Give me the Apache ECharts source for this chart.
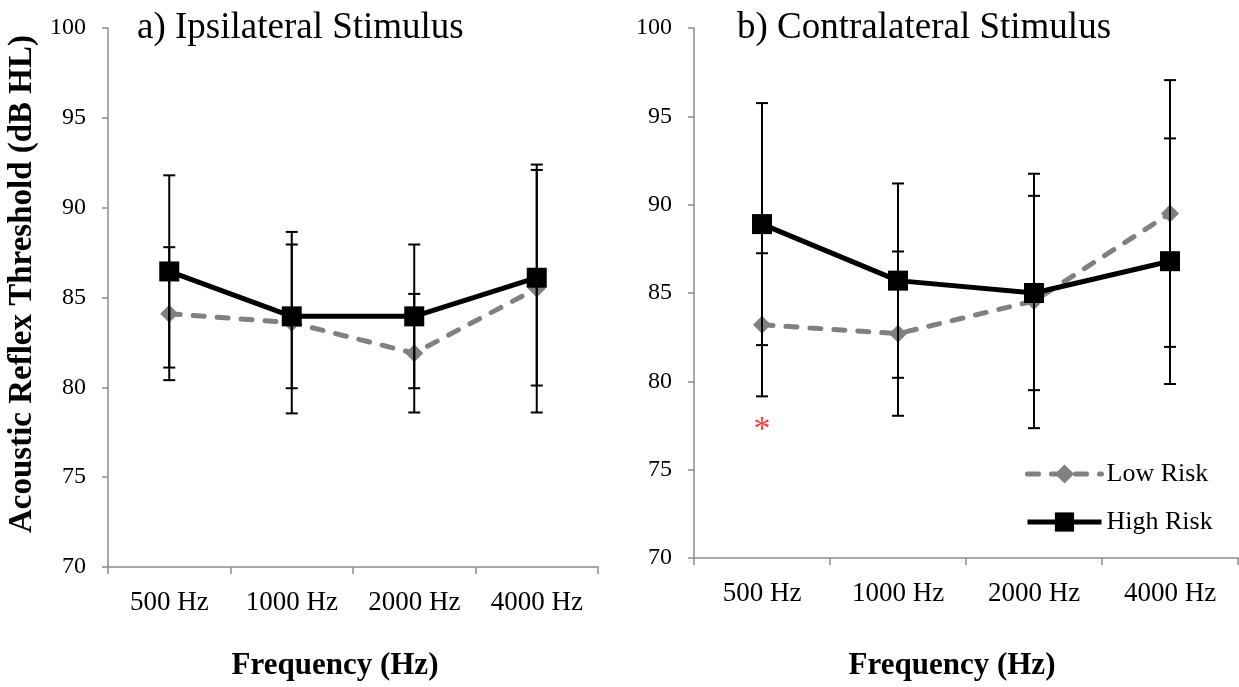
<!DOCTYPE html>
<html><head><meta charset="utf-8">
<script src="https://cdn.jsdelivr.net/npm/echarts@6/dist/echarts.min.js"></script>
<style>html,body{margin:0;padding:0;background:#fff}#c{width:1239px;height:687px}</style>
</head><body><div id="c"></div>
<script>
const categories = ['500 Hz', '1000 Hz', '2000 Hz', '4000 Hz'];
const yMin = 70, yMax = 100, yStep = 5;
const ipsiLowMean = [84.1, 83.6, 81.9, 85.5];
const ipsiLowErr = [3.7, 5.05, 3.3, 6.9];
const ipsiHighMean = [86.45, 83.95, 83.95, 86.1];
const ipsiHighErr = [5.35, 4.0, 4.0, 6.0];
const contraLowMean = [83.2, 82.7, 84.55, 89.5];
const contraLowErr = [4.05, 4.65, 7.2, 7.55];
const contraHighMean = [88.9, 85.7, 85.0, 86.8];
const contraHighErr = [6.85, 5.5, 5.5, 6.95];
const sigMarks = [[0, 77.25]];

const FONT = '"Liberation Serif", "Times New Roman", serif';

function errData(mean, err) {
  return mean.map((m, i) => [i, m - err[i], m + err[i]]);
}
function errRender(params, api) {
  const x = api.value(0), lo = api.value(1), hi = api.value(2);
  const pHi = api.coord([x, hi]);
  const pLo = api.coord([x, lo]);
  const cw = 6;
  const style = { stroke: '#000', lineWidth: 2, fill: null };
  return { type: 'group', children: [
    { type: 'line', shape: { x1: pHi[0], y1: pHi[1], x2: pLo[0], y2: pLo[1] }, style: style },
    { type: 'line', shape: { x1: pHi[0] - cw, y1: pHi[1], x2: pHi[0] + cw, y2: pHi[1] }, style: style },
    { type: 'line', shape: { x1: pLo[0] - cw, y1: pLo[1], x2: pLo[0] + cw, y2: pLo[1] }, style: style }
  ]};
}

const axisLineStyle = { color: '#8c8c8c', width: 1.5 };

function xAxisCfg(idx) {
  return {
    type: 'category', gridIndex: idx, data: categories, boundaryGap: true,
    axisLine: { lineStyle: axisLineStyle },
    axisTick: { show: true, length: 7, lineStyle: axisLineStyle },
    axisLabel: { color: '#000', fontFamily: FONT, fontSize: 27, margin: 22 },
    splitLine: { show: false }
  };
}
function yAxisCfg(idx) {
  return {
    type: 'value', gridIndex: idx, min: yMin, max: yMax, interval: yStep,
    axisLine: { show: true, lineStyle: axisLineStyle },
    axisTick: { show: true, length: 6, lineStyle: axisLineStyle },
    axisLabel: { color: '#000', fontFamily: FONT, fontSize: 24, margin: 22 },
    splitLine: { show: false }
  };
}
function lowSeries(idx, data) {
  return {
    name: 'Low Risk', type: 'line', xAxisIndex: idx, yAxisIndex: idx, data: data,
    symbol: 'diamond', symbolSize: 18,
    itemStyle: { color: '#808080' },
    lineStyle: { color: '#808080', width: 5, type: [11, 13], cap: 'round' },
    z: 3, animation: false
  };
}
function highSeries(idx, data) {
  return {
    name: 'High Risk', type: 'line', xAxisIndex: idx, yAxisIndex: idx, data: data,
    symbol: 'rect', symbolSize: 20,
    itemStyle: { color: '#000' },
    lineStyle: { color: '#000', width: 5 },
    z: 4, animation: false
  };
}
function errSeries(idx, mean, err) {
  return {
    type: 'custom', xAxisIndex: idx, yAxisIndex: idx, renderItem: errRender,
    data: errData(mean, err), encode: { x: 0, y: [1, 2] }, z: 5, silent: true, animation: false
  };
}

const chart = echarts.init(document.getElementById('c'), null, { renderer: 'canvas' });
chart.setOption({
  backgroundColor: '#fff',
  animation: false,
  grid: [
    { left: 108, right: 641, top: 28, bottom: 120 },
    { left: 694, right: 1, top: 28, bottom: 129 }
  ],
  xAxis: [xAxisCfg(0), xAxisCfg(1)],
  yAxis: [yAxisCfg(0), yAxisCfg(1)],
  legend: {
    data: ['Low Risk', 'High Risk'], orient: 'vertical', left: 1020, top: 456,
    itemWidth: 74, itemHeight: 24, itemGap: 22,
    lineStyle: { width: 5 },
    textStyle: { color: '#000', fontFamily: FONT, fontSize: 26 }
  },
  series: [
    lowSeries(0, ipsiLowMean), highSeries(0, ipsiHighMean),
    errSeries(0, ipsiLowMean, ipsiLowErr), errSeries(0, ipsiHighMean, ipsiHighErr),
    lowSeries(1, contraLowMean), highSeries(1, contraHighMean),
    errSeries(1, contraLowMean, contraLowErr), errSeries(1, contraHighMean, contraHighErr),
    {
      type: 'scatter', xAxisIndex: 1, yAxisIndex: 1, data: sigMarks, symbolSize: 0,
      label: { show: true, position: 'inside', formatter: '*', color: '#ff0000', fontFamily: FONT, fontSize: 34 },
      silent: true, animation: false
    }
  ],
  graphic: [
    { type: 'text', x: 137, y: 28, style: { text: 'a) Ipsilateral Stimulus', font: '37px ' + FONT, fill: '#000', textAlign: 'left', textVerticalAlign: 'middle' } },
    { type: 'text', x: 737, y: 28, style: { text: 'b) Contralateral Stimulus', font: '37px ' + FONT, fill: '#000', textAlign: 'left', textVerticalAlign: 'middle' } },
    { type: 'text', x: 335, y: 666, style: { text: 'Frequency (Hz)', font: 'bold 31px ' + FONT, fill: '#000', textAlign: 'center', textVerticalAlign: 'middle' } },
    { type: 'text', x: 952, y: 666, style: { text: 'Frequency (Hz)', font: 'bold 31px ' + FONT, fill: '#000', textAlign: 'center', textVerticalAlign: 'middle' } },
    { type: 'text', x: 22, y: 284, rotation: Math.PI / 2, style: { text: 'Acoustic Reflex Threshold (dB HL)', font: 'bold 33px ' + FONT, fill: '#000', textAlign: 'center', textVerticalAlign: 'middle' } }
  ]
});
</script></body></html>
